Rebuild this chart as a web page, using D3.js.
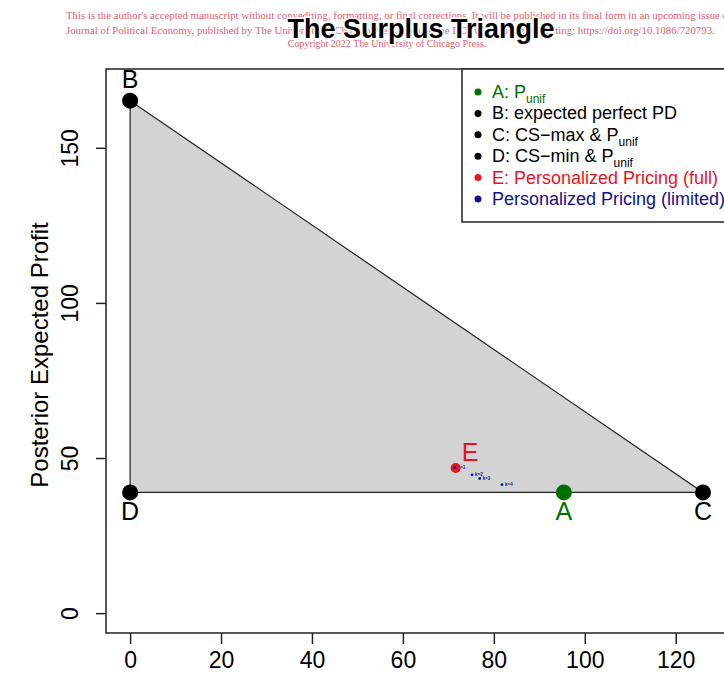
<!DOCTYPE html>
<html>
<head>
<meta charset="utf-8">
<script src="https://cdn.jsdelivr.net/npm/d3@7/dist/d3.min.js"></script>
<style>
  body { margin: 0; background: #fff; }
  svg { display: block; font-family: Arial, "Liberation Sans", sans-serif; }
</style>
</head>
<body>
<div id="chart"></div>
<script>
// corner points of the surplus triangle plus the two pricing outcomes
const pointNames = ['A', 'B', 'C', 'D', 'E'];
const pointX = [95.4, 0, 126, 0, 71.6];
const pointY = [38.9, 165.2, 38.9, 38.9, 46.8];
const pointColors = ['#007000', '#000', '#000', '#000', '#e8141e'];
const labelPos = ['below', 'above', 'below', 'below', 'aboveRight'];

const triangle = ['B', 'C', 'D'];

// personalized pricing (limited) runs
const limitedX = [71.4, 75.2, 76.9, 81.8];
const limitedY = [46.9, 44.6, 43.4, 41.4];
const limitedLabels = ['k=1', 'k=2', 'k=3', 'k=4'];

const xTicks = [0, 20, 40, 60, 80, 100, 120];
const yTicks = [0, 50, 100, 150];
const xLim = [-5.3, 131.5];
const yLim = [-6.4, 175.4];

const legendItems = [
  { main: 'A: P', sub: 'unif', color: '#007000' },
  { main: 'B: expected perfect PD', sub: '', color: '#000' },
  { main: 'C: CS\u2212max & P', sub: 'unif', color: '#000' },
  { main: 'D: CS\u2212min & P', sub: 'unif', color: '#000' },
  { main: 'E: Personalized Pricing (full)', sub: '', color: '#e8141e' },
  { main: 'Personalized Pricing (limited)', sub: '', color: '#10108c' },
];

const watermark = [
  "This is the author's accepted manuscript without copyediting, formatting, or final corrections. It will be published in its final form in an upcoming issue of the",
  'Journal of Political Economy, published by The University of Chicago Press. Include the DOI when citing or quoting: https://doi.org/10.1086/720793.',
  'Copyright 2022 The University of Chicago Press.',
];

const width = 724, height = 679;
const box = { left: 106, right: 728, top: 69, bottom: 633 };

const x = d3.scaleLinear().domain(xLim).range([box.left, box.right]);
const y = d3.scaleLinear().domain(yLim).range([box.bottom, box.top]);

const svg = d3.select('#chart').append('svg')
  .attr('width', width)
  .attr('height', height);

// watermark text from the manuscript page
const wm = svg.append('g')
  .attr('font-family', '"Liberation Serif", "DejaVu Serif", serif')
  .attr('font-size', 10.8)
  .attr('fill', '#e0606e');
wm.append('text').attr('x', 66).attr('y', 19).text(watermark[0]);
wm.append('text').attr('x', 66).attr('y', 34).text(watermark[1]);
wm.append('text').attr('x', 387).attr('y', 47).attr('text-anchor', 'middle')
  .attr('font-size', 10).text(watermark[2]);

svg.append('text')
  .attr('x', 421)
  .attr('y', 38)
  .attr('text-anchor', 'middle')
  .attr('font-size', 27)
  .attr('font-weight', 'bold')
  .attr('stroke', '#fff')
  .attr('stroke-width', 3)
  .attr('paint-order', 'stroke')
  .attr('fill', '#000')
  .text('The Surplus Triangle');

// triangle
const byName = Object.fromEntries(pointNames.map((n, i) => [n, [pointX[i], pointY[i]]]));
svg.append('polygon')
  .attr('points', triangle.map(n => [x(byName[n][0]), y(byName[n][1])].join(',')).join(' '))
  .attr('fill', '#d3d3d3')
  .attr('stroke', '#222')
  .attr('stroke-width', 1.2);

// limited personalized pricing points
const gLim = svg.append('g').attr('fill', '#10108c');
gLim.selectAll('circle')
  .data(limitedX)
  .join('circle')
  .attr('cx', d => x(d))
  .attr('cy', (d, i) => y(limitedY[i]))
  .attr('r', 1.4);
gLim.selectAll('text')
  .data(limitedLabels)
  .join('text')
  .attr('x', (d, i) => x(limitedX[i]) + 3)
  .attr('y', (d, i) => y(limitedY[i]) + 1.5)
  .attr('font-size', 4.5)
  .attr('font-weight', 'bold')
  .text(d => d);

// main points
const pts = pointNames.map((n, i) => ({ name: n, x: pointX[i], y: pointY[i], color: pointColors[i], pos: labelPos[i] }));
svg.append('g')
  .selectAll('circle')
  .data(pts)
  .join('circle')
  .attr('cx', d => x(d.x))
  .attr('cy', d => y(d.y))
  .attr('r', d => d.name === 'E' ? 5 : 8)
  .attr('fill', d => d.color);

svg.append('g')
  .attr('font-size', 25)
  .selectAll('text')
  .data(pts)
  .join('text')
  .attr('fill', d => d.color)
  .attr('text-anchor', d => d.pos === 'aboveRight' ? 'start' : 'middle')
  .attr('x', d => x(d.x) + (d.pos === 'aboveRight' ? 6 : 0))
  .attr('y', d => y(d.y) + (d.pos === 'below' ? 28 : d.pos === 'above' ? -13 : -7))
  .text(d => d.name);

// blue limited point drawn over E, as in the original
svg.append('circle')
  .attr('cx', x(limitedX[0]))
  .attr('cy', y(limitedY[0]))
  .attr('r', 1.4)
  .attr('fill', '#10108c');

// plot box
svg.append('rect')
  .attr('x', box.left)
  .attr('y', box.top)
  .attr('width', box.right - box.left)
  .attr('height', box.bottom - box.top)
  .attr('fill', 'none')
  .attr('stroke', '#222')
  .attr('stroke-width', 1.5);

// axes
const xAxis = svg.append('g')
  .attr('transform', `translate(0,${box.bottom})`)
  .call(d3.axisBottom(x).tickValues(xTicks).tickSize(11).tickPadding(8).tickFormat(d3.format('d')));
xAxis.select('.domain').remove();
xAxis.selectAll('text').attr('font-size', 23).attr('font-family', 'Arial, "Liberation Sans", sans-serif').attr('fill', '#000');
xAxis.selectAll('line').attr('stroke', '#222').attr('stroke-width', 1.5);

const yAxis = svg.append('g')
  .attr('transform', `translate(${box.left},0)`)
  .call(d3.axisLeft(y).tickValues(yTicks).tickSize(10).tickFormat(d3.format('d')));
yAxis.select('.domain').remove();
yAxis.selectAll('line').attr('stroke', '#222').attr('stroke-width', 1.5);
yAxis.selectAll('text')
  .attr('font-size', 23)
  .attr('font-family', 'Arial, "Liberation Sans", sans-serif')
  .attr('fill', '#000')
  .attr('text-anchor', 'middle')
  .attr('x', null)
  .attr('transform', 'translate(-36,0) rotate(-90)')
  .attr('y', 0)
  .attr('dy', '0.35em');

svg.append('text')
  .attr('transform', `translate(48,${(box.top + box.bottom) / 2 + 4}) rotate(-90)`)
  .attr('text-anchor', 'middle')
  .attr('font-size', 24)
  .attr('fill', '#000')
  .text('Posterior Expected Profit');

// legend
const legend = svg.append('g');
legend.append('rect')
  .attr('x', 462)
  .attr('y', box.top)
  .attr('width', 300)
  .attr('height', 153)
  .attr('fill', '#fff')
  .attr('stroke', '#222')
  .attr('stroke-width', 1.5);

const rows = legend.selectAll('g.row')
  .data(legendItems)
  .join('g')
  .attr('class', 'row')
  .attr('transform', (d, i) => `translate(0,${92 + i * 21.4})`);
rows.append('circle')
  .attr('cx', 478)
  .attr('cy', 0)
  .attr('r', 3.5)
  .attr('fill', d => d.color);
const lt = rows.append('text')
  .attr('x', 492)
  .attr('y', 6)
  .attr('font-size', 18)
  .attr('fill', d => d.color);
lt.append('tspan').text(d => d.main);
lt.append('tspan')
  .attr('font-size', 12)
  .attr('dy', 5)
  .text(d => d.sub);
</script>
</body>
</html>
